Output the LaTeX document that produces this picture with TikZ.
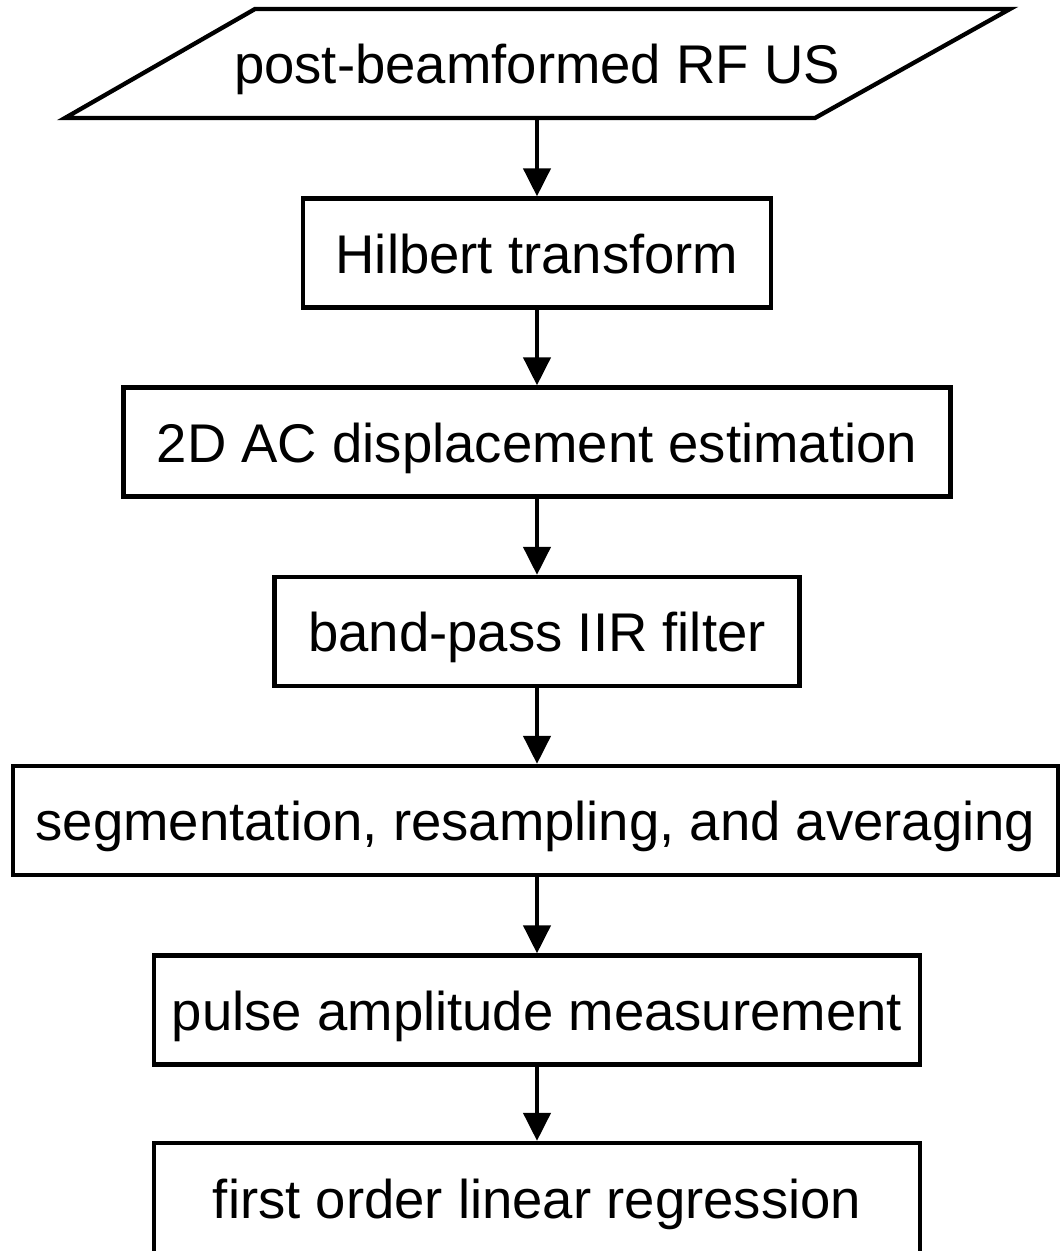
\documentclass[tikz,border=0pt]{standalone}
\usepackage{fontspec}
\setmainfont{Liberation Sans}
\usetikzlibrary{arrows.meta}
\begin{document}
\begin{tikzpicture}[x=1pt,y=-1pt,
  every node/.style={font=\fontsize{54.5}{64}\selectfont,text height=40pt,text depth=0pt},
  stepbox/.style={draw=black,line width=4.3pt,rectangle,inner sep=0pt,minimum height=109pt},
  flowarrow/.style={line width=4.3pt,-{Triangle[width=27pt,length=28pt]}}]
\useasboundingbox (0,0) rectangle (1060,1251);
% input parallelogram
\coordinate (p1) at (255,9);
\coordinate (p2) at (1010,9);
\coordinate (p3) at (815,118);
\coordinate (p4) at (65,118);
\draw[line width=4.3pt,line join=miter] (p1) -- (p2) -- (p3) -- (p4) -- cycle;
\node[rectangle,inner sep=0pt,minimum width=500pt,minimum height=109pt] (para) at (537,63.5) {post-beamformed RF US};
% steps
\node[stepbox,minimum width=468pt] (hil) at (537,253) {Hilbert transform};
\node[stepbox,minimum width=827pt] (ac) at (537,442) {2D AC displacement estimation};
\node[stepbox,minimum width=525pt] (bp) at (537,631.5) {band-pass IIR filter};
\node[stepbox,minimum width=1045pt] (seg) at (535.5,820.5) {segmentation, resampling, and averaging};
\node[stepbox,minimum width=766pt] (pulse) at (537,1010) {pulse amplitude measurement};
\node[stepbox,minimum width=766pt,minimum height=110pt] (reg) at (537,1198) {first order linear regression};
% connectors
\draw[flowarrow] (para.south) -- (para.south |- hil.north);
\draw[flowarrow] (hil.south) -- (hil.south |- ac.north);
\draw[flowarrow] (ac.south) -- (ac.south |- bp.north);
\draw[flowarrow] (bp.south) -- (bp.south |- seg.north);
\draw[flowarrow] (bp.south |- seg.south) -- (bp.south |- pulse.north);
\draw[flowarrow] (pulse.south) -- (pulse.south |- reg.north);
\end{tikzpicture}
\end{document}
